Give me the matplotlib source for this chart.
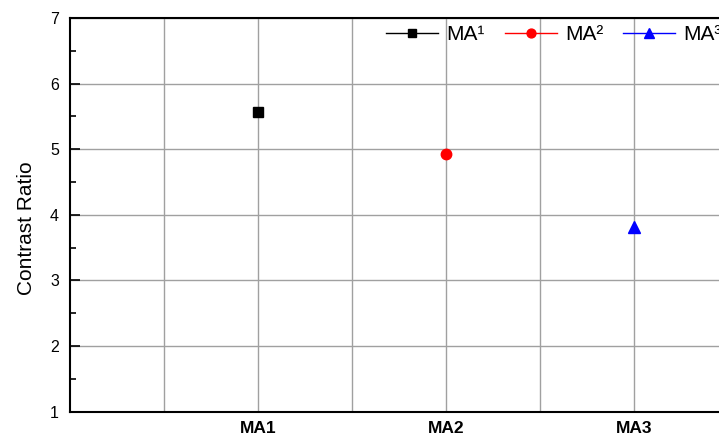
import matplotlib
matplotlib.use("Agg")
import matplotlib.pyplot as plt
from matplotlib.ticker import MultipleLocator

plt.rcParams['font.family'] = ['Liberation Sans', 'DejaVu Sans']

categories = ["MA1", "MA2", "MA3"]
values = [5.57, 4.93, 3.81]
legend_labels = ["MA¹", "MA²", "MA³"]
colors = ["black", "red", "blue"]
markers = ["s", "o", "^"]
msizes = [7.5, 7.5, 9]

W, H = 719, 437
fig = plt.figure(figsize=(W / 100, H / 100), dpi=100)
left, right, top, bottom = 70, 70 + 3.5 * 188, 18, 411.5
ax = fig.add_axes([left / W, (H - bottom) / H, (right - left) / W, (bottom - top) / H])

xs = list(range(1, len(categories) + 1))
for x, v, c, m, s, lab in zip(xs, values, colors, markers, msizes, legend_labels):
    ax.plot([x], [v], linestyle='-', color=c, marker=m, markersize=s,
            linewidth=1, label=lab, zorder=3)

ax.set_xlim(0, 3.5)
ax.set_ylim(1, 7)
ax.set_xticks(xs)
ax.set_xticklabels(categories, fontweight='bold', fontsize=12.5)
ax.set_xticks([0.5, 1.5, 2.5, 3.5], minor=True)
ax.tick_params(axis='x', which='both', length=0, pad=7)
ax.yaxis.set_major_locator(MultipleLocator(1))
ax.yaxis.set_minor_locator(MultipleLocator(0.5))
ax.tick_params(axis='y', which='major', direction='in', length=7, width=1.2, labelsize=11.5, pad=8)
ax.tick_params(axis='y', which='minor', direction='in', length=4, width=1.2)
ax.grid(True, axis='x', which='both', color='#a0a0a0', linewidth=1)
ax.grid(True, axis='y', which='major', color='#a0a0a0', linewidth=1)
ax.set_axisbelow(True)
for sp in ['left', 'top', 'bottom']:
    ax.spines[sp].set_linewidth(1.5)
    ax.spines[sp].set_color('black')
ax.spines['right'].set_visible(False)

ax.set_ylabel("Contrast Ratio", fontsize=15)
ax.yaxis.set_label_coords((36 - left) / (right - left), 0.465)

fig.legend(loc='center left', bbox_to_anchor=(386 / W, 1 - 34.5 / H), ncol=3,
           frameon=False, fontsize=15, numpoints=1, handlelength=2.5,
           handletextpad=0.4, columnspacing=0.95, borderpad=0, borderaxespad=0,
           markerscale=0.85)

fig.savefig("out.png", dpi=100)
